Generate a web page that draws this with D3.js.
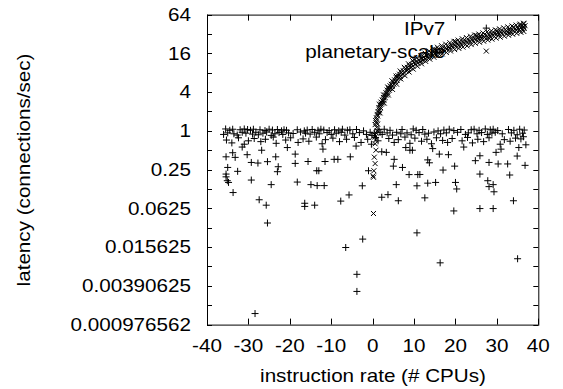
<!DOCTYPE html>
<html>
<head>
<meta charset="utf-8">
<script src="https://cdn.jsdelivr.net/npm/d3@7"></script>
<style>
  body { margin: 0; background: #fff; }
  text { font-family: "Liberation Sans", Arial, sans-serif; font-size: 17.5px; fill: #000; }
</style>
</head>
<body>
<svg></svg>
<script>
// Define SVG dimensions
const width = 563, height = 389;

// Axis ticks and labels
const xTicks = [-40, -30, -20, -10, 0, 10, 20, 30, 40];
const yTicks = [0.0009765625, 0.00390625, 0.015625, 0.0625, 0.25, 1, 4, 16, 64];
const yTickLabels = ["0.000976562", "0.00390625", "0.015625", "0.0625", "0.25", "1", "4", "16", "64"];
const yMinorTicks = [0.001953125, 0.0078125, 0.03125, 0.125, 0.5, 2, 8, 32];
const seriesNames = ["IPv7", "planetary-scale"];

// IPv7 points [x, y] (plus markers)
const ipv7 = [
  [-35.5, 1.07], [-34.5, 1.02], [-33.8, 1.06], [-32, 1.04], [-31, 1.07], [-30.2, 1.05], [-29.5, 1.02],
  [-28.8, 1.06], [-27.2, 1.04], [-26, 1.01], [-25, 1.06], [-24.2, 1.03], [-23, 1.05], [-22, 1.0],
  [-21.4, 1.04], [-20.8, 1.02], [-18.2, 1.04], [-16.5, 1.0], [-15.8, 1.03], [-14.6, 1.05], [-13.2, 1.02],
  [-12.5, 1.06], [-11.8, 1.03], [-10.5, 1.01], [-9.2, 1.04], [-8.2, 1.0], [-7.3, 1.06], [-6.1, 1.02],
  [-5.5, 1.04], [-3.9, 1.05], [-2.2, 1.0], [1.5, 1.04], [2.8, 1.06], [4.2, 1.02], [7.1, 1.05],
  [9.8, 1.07], [10.5, 1.02], [12.1, 1.05], [15.8, 1.0], [17.2, 1.03], [18.5, 1.06], [19.6, 1.01],
  [21.3, 1.05], [23.8, 1.04], [24.5, 1.06], [25.7, 1.02], [27.2, 1.07], [28.4, 1.04], [29.1, 1.06],
  [30.2, 1.01], [32.8, 1.05], [34.1, 1.02], [35.5, 1.06], [36.6, 1.03],
  [-36, 0.88], [-35, 0.93], [-33.5, 0.9], [-32.7, 0.86], [-31.5, 0.95], [-30.6, 0.92], [-29, 0.89],
  [-28.2, 0.95], [-27.6, 0.87], [-26.5, 0.92], [-25.6, 0.96], [-24.5, 0.85], [-23.6, 0.9], [-22.6, 0.94],
  [-21.7, 0.88], [-20.3, 0.93], [-19.2, 0.91], [-17.4, 0.96], [-16.2, 0.92], [-15.1, 0.89], [-14, 0.95],
  [-12.9, 0.9], [-11, 0.94], [-10, 0.88], [-8.8, 0.92], [-7.6, 0.95], [-6.7, 0.86], [-4.8, 0.9],
  [-3.2, 0.94], [-1.5, 0.88], [-0.6, 0.95], [-0.2, 0.85], [0.4, 0.92], [1.8, 0.95], [2.3, 0.88],
  [3.5, 0.93], [4.8, 0.86], [5.8, 0.95], [6.8, 0.9], [8.3, 0.93], [9.3, 0.87], [11.2, 0.94],
  [12.6, 0.89], [13.5, 0.92], [14.8, 0.96], [16.4, 0.9], [17.8, 0.93], [20.5, 0.95], [22.4, 0.88],
  [23.1, 0.93], [25.2, 0.9], [26.3, 0.94], [27.7, 0.88], [28.8, 0.92], [29.6, 0.95], [31.3, 0.9],
  [33.5, 0.93], [34.9, 0.87], [36.2, 0.92],
  [-35.3, 0.72], [-34, 0.65], [-32.4, 0.78], [-31, 0.62], [-30, 0.7], [-28.6, 0.76], [-27, 0.68],
  [-25.9, 0.74], [-24, 0.8], [-23.3, 0.64], [-21, 0.72], [-19.8, 0.78], [-18, 0.66], [-16.8, 0.75],
  [-15.4, 0.69], [-13.6, 0.8], [-12.2, 0.63], [-11.4, 0.73], [-9.6, 0.77], [-8, 0.68], [-6.3, 0.74],
  [-4.4, 0.79], [-2.8, 0.66], [-1.2, 0.74], [-0.3, 0.62], [0.7, 0.79], [1.3, 0.7], [3.9, 0.76],
  [5.2, 0.66], [6.2, 0.73], [7.8, 0.8], [9.0, 0.64], [10.2, 0.77], [11.8, 0.69], [13.1, 0.74],
  [14.2, 0.63], [15.4, 0.78], [16.9, 0.71], [18.1, 0.66], [19.2, 0.76], [21.6, 0.7], [22.9, 0.79],
  [24.1, 0.65], [25.4, 0.74], [26.8, 0.68], [28.1, 0.78], [30.8, 0.62], [31.8, 0.73], [33.2, 0.69],
  [34.5, 0.77], [35.8, 0.75], [36.4, 0.81],
  [-31.5, 0.56], [-26.8, 0.5], [-20.6, 0.55], [-12, 0.52], [-4, 0.58], [8, 0.55], [14.5, 0.53],
  [22, 0.56], [31, 0.52],
  [-35.4, 0.395], [-33.8, 0.457], [-33.2, 0.387], [-30.3, 0.426], [-29.3, 0.323], [-27.7, 0.316],
  [-25.4, 0.332], [-23.4, 0.395], [-18.7, 0.435], [-18.7, 0.312], [-15.6, 0.334], [-11.5, 0.334],
  [-9.3, 0.361], [-8.4, 0.361], [-5.4, 0.395], [2.2, 0.473], [3.3, 0.463], [5.2, 0.361], [9.0, 0.5],
  [9.6, 0.5], [13.3, 0.354], [13.7, 0.319], [16.1, 0.435], [18.3, 0.426], [25.9, 0.41], [29.8, 0.463],
  [34.9, 0.406], [35.3, 0.55], [37.0, 0.607],
  [-35.4, 0.213], [-35.4, 0.193], [-32.6, 0.235], [-35.0, 0.27], [-23.0, 0.232], [-22.8, 0.277],
  [-13.5, 0.24], [-13.0, 0.24], [-1.0, 0.24], [5.0, 0.283], [7.2, 0.27], [8.8, 0.209], [10.9, 0.209],
  [11.4, 0.21], [17.0, 0.246], [19.8, 0.283], [24.8, 0.344], [28.1, 0.323], [30.3, 0.306], [32.6, 0.306],
  [25.9, 0.213], [33.1, 0.206], [36.8, 0.291],
  [-33.7, 0.11], [-35.1, 0.168], [-34.8, 0.158], [-29.3, 0.172], [-24.5, 0.146], [-18.2, 0.16],
  [-14.9, 0.146], [-13.4, 0.141], [-11.7, 0.141], [-2.5, 0.14], [5.7, 0.146], [10.7, 0.14],
  [13.3, 0.154], [15.2, 0.158], [20.0, 0.158], [20.3, 0.125], [27.8, 0.168], [28.1, 0.136],
  [29.1, 0.146], [29.3, 0.113],
  [-27.4, 0.085], [-25.7, 0.07], [-16.4, 0.075], [-16.4, 0.067], [-14.0, 0.07], [-7.7, 0.081],
  [-5.7, 0.101], [2.2, 0.093], [3.7, 0.102], [6.2, 0.082], [12.6, 0.091], [19.6, 0.057], [25.9, 0.062],
  [29.1, 0.062], [34.0, 0.082],
  [-25.4, 0.037], [-6.5, 0.0154], [-2.4, 0.0208], [10.7, 0.026], [16.3, 0.0089], [35.0, 0.0103],
  [-3.8, 0.0059], [-3.8, 0.0032], [-28.4, 0.00145]
];

// planetary-scale points [x, y] (cross markers)
const planetary = [
  [0.2, 0.052], [0.2, 0.19], [0.3, 0.24], [0.1, 0.2], [0.6, 0.31], [0.4, 0.39], [0.8, 0.5],
  [0.6, 0.63], [0.6, 0.8], [0.7, 0.72], [0.5, 0.87], [0.9, 0.92], [1.1, 1.0], [1.0, 1.13], [1.2, 1.27],
  [0.6, 1.25], [0.7, 1.45], [0.8, 1.35], [0.9, 1.6], [1.0, 1.5], [1.1, 1.8], [1.2, 1.7], [1.3, 2.0],
  [1.4, 1.9], [1.5, 2.3], [1.6, 2.1], [1.8, 2.5], [1.9, 2.3], [2.0, 2.8], [2.1, 2.6], [2.3, 3.0],
  [2.4, 2.7], [2.6, 3.3], [2.7, 3.0], [2.9, 3.6], [3.0, 3.3], [3.2, 3.9], [3.3, 3.6], [3.5, 4.3],
  [3.6, 3.9], [3.8, 4.6], [4.0, 4.3], [4.2, 5.0], [4.3, 4.6], [4.5, 5.3], [4.7, 4.9], [4.9, 5.8],
  [5.1, 5.3], [5.3, 6.2], [5.5, 5.8], [5.7, 6.7], [5.9, 6.1], [6.1, 7.2], [6.3, 6.6], [6.5, 7.6],
  [6.7, 7.0], [6.9, 8.1], [7.1, 7.5], [7.4, 8.6], [7.6, 8.0], [7.9, 9.2], [8.1, 8.5], [8.4, 9.7],
  [8.6, 9.0], [8.9, 10.3], [9.1, 9.5], [9.4, 10.8], [9.7, 10.1], [10.0, 11.5], [10.3, 10.8],
  [10.6, 12.1], [10.9, 11.3], [11.2, 12.7], [11.5, 11.9], [11.8, 13.4], [12.1, 12.5], [12.4, 14.0],
  [12.7, 13.1], [13.0, 14.8], [13.3, 13.7], [13.6, 15.4], [13.9, 14.3], [14.2, 16.0], [14.5, 15.0],
  [14.8, 16.7], [15.1, 15.6], [15.5, 17.4], [15.8, 16.3], [16.2, 18.2], [16.5, 17.0], [16.9, 19.0],
  [17.2, 17.7], [17.6, 19.6], [17.9, 18.5], [18.3, 20.4], [18.6, 19.2], [19.0, 21.2], [19.3, 19.9],
  [19.7, 22.0], [20.0, 20.6], [20.4, 22.8], [20.7, 21.3], [21.1, 23.6], [21.4, 22.1], [21.8, 24.3],
  [22.1, 22.8], [22.5, 25.1], [22.8, 23.5], [23.2, 25.9], [23.5, 24.3], [23.9, 26.7], [24.2, 25.0],
  [24.6, 27.5], [24.9, 25.8], [25.3, 28.2], [25.6, 26.6], [26.0, 29.0], [26.3, 27.3], [26.7, 29.8],
  [27.0, 28.1], [27.4, 30.6], [27.7, 28.8], [28.1, 31.4], [28.4, 29.6], [28.8, 32.2], [29.1, 30.3],
  [29.5, 33.0], [29.8, 31.1], [30.2, 33.8], [30.5, 31.8], [30.9, 34.6], [31.2, 32.6], [31.6, 35.4],
  [31.9, 33.3], [32.3, 36.2], [32.6, 34.1], [33.0, 37.0], [33.3, 34.8], [33.7, 37.8], [34.0, 35.6],
  [34.4, 38.6], [34.7, 36.3], [35.1, 39.4], [35.4, 37.1], [35.8, 40.6], [36.1, 38.0], [36.4, 41.8],
  [36.6, 39.0], [36.8, 43.0], [36.5, 46], [35.5, 44], [34, 41], [30, 36], [25, 30.5], [20, 24.5],
  [15, 18.5], [10, 12.8], [33, 33], [28, 28],
  [1.65, 2.6], [2.65, 3.6], [3.65, 4.8], [4.65, 6.0], [5.65, 7.1], [6.65, 8.5], [7.65, 9.7],
  [8.65, 11.0], [9.65, 12.3], [10.65, 13.6], [11.65, 14.8], [12.65, 16.1], [13.65, 17.4], [14.65, 18.7],
  [15.65, 19.9], [16.65, 21.0], [17.65, 22.2], [18.65, 23.4], [19.65, 24.6], [20.65, 25.7], [21.65, 26.9],
  [22.65, 28.1], [23.65, 29.5], [24.65, 30.8], [25.65, 31.9], [26.65, 33.2], [27.65, 34.5], [28.65, 35.8],
  [29.65, 37.1], [30.65, 38.4], [31.65, 39.8], [32.65, 41.2], [33.65, 42.6], [34.65, 44.0], [35.65, 45.6],
  [36.45, 47.0],
  [1.8, 1.9], [2.8, 2.7], [3.8, 3.6], [4.8, 4.4], [5.8, 5.3], [6.8, 6.4], [7.8, 7.2], [8.8, 8.2],
  [9.8, 9.1], [10.8, 10.1], [11.8, 11.0], [12.8, 12.0], [13.8, 13.0], [14.8, 13.9], [15.8, 14.8],
  [16.8, 15.7], [17.8, 16.5], [18.8, 17.4], [19.8, 18.3], [20.8, 19.1], [21.8, 20.0], [22.8, 20.9],
  [23.8, 21.9], [24.8, 22.9], [25.8, 23.8], [26.8, 24.7], [27.8, 25.7], [28.8, 26.6], [29.8, 27.6],
  [30.8, 28.5], [31.8, 29.6], [32.8, 30.6], [33.8, 31.7], [34.8, 32.7], [35.8, 33.9], [36.5, 35.0]
];

// Plot frame
const margin = { left: 207, right: 24.7, top: 14.6, bottom: 64.4 };
const plotRight = width - margin.right, plotBottom = height - margin.bottom;

const svg = d3.select("svg")
  .attr("width", width)
  .attr("height", height);

// Scales
const x = d3.scaleLinear().domain([-40, 40]).range([margin.left, plotRight]);
const y = d3.scaleLog().base(2).domain([0.0009765625, 64]).range([plotBottom, margin.top]);

// Gnuplot-style wide lettering
const stretch = 1.18;

// Ticks on all four sides, pointing inward
const tickG = svg.append("g").attr("stroke", "#000").attr("stroke-width", 1);
xTicks.forEach(t => {
  const px = Math.round(x(t)) + 0.5;
  tickG.append("line").attr("x1", px).attr("x2", px).attr("y1", plotBottom).attr("y2", plotBottom - 6);
  tickG.append("line").attr("x1", px).attr("x2", px).attr("y1", margin.top).attr("y2", margin.top + 6);
});
yTicks.concat(yMinorTicks).forEach(t => {
  const py = Math.round(y(t)) + 0.5;
  tickG.append("line").attr("x1", margin.left).attr("x2", margin.left + 5).attr("y1", py).attr("y2", py);
  tickG.append("line").attr("x1", plotRight).attr("x2", plotRight - 5).attr("y1", py).attr("y2", py);
});

// Tick labels
svg.append("g")
  .selectAll("text")
  .data(xTicks)
  .join("text")
  .attr("text-anchor", "middle")
  .attr("transform", d => `translate(${x(d)},${plotBottom + 27.5}) scale(${stretch},1)`)
  .text(d => d);

svg.append("g")
  .selectAll("text")
  .data(yTicks)
  .join("text")
  .attr("text-anchor", "end")
  .attr("transform", d => `translate(${margin.left - 16},${y(d) + 6.2}) scale(${stretch},1)`)
  .text((d, i) => yTickLabels[i]);

// Axis titles
svg.append("text")
  .attr("text-anchor", "middle")
  .attr("transform", `translate(373,382) scale(${stretch},1)`)
  .text("instruction rate (# CPUs)");

svg.append("text")
  .attr("text-anchor", "middle")
  .attr("transform", `translate(30,170) rotate(-90) scale(${stretch},1)`)
  .text("latency (connections/sec)");

// Marker shapes
const plusPath = "M-3.5,0H3.5M0,-3.5V3.5";
const crossPath = "M-2.5,-2.5L2.5,2.5M-2.5,2.5L2.5,-2.5";

// Key: text first, then samples and data drawn over it
const keyTextX = plotRight - 93, keySampleX = plotRight - 52;
const keyRows = [margin.top + 13.5, margin.top + 36.5];

seriesNames.forEach((name, i) => {
  svg.append("text")
    .attr("text-anchor", "end")
    .attr("transform", `translate(${keyTextX},${keyRows[i] + 6.5}) scale(${stretch},1)`)
    .text(name);
});

// IPv7 points
const marks = svg.append("g").attr("fill", "none").attr("stroke", "#000").attr("stroke-width", 1);
marks.append("path")
  .attr("d", plusPath)
  .attr("transform", `translate(${keySampleX},${keyRows[0]})`);
marks.selectAll("path.ipv7")
  .data(ipv7)
  .join("path")
  .attr("class", "ipv7")
  .attr("d", plusPath)
  .attr("transform", d => `translate(${x(d[0])},${y(d[1])})`);

// planetary-scale points
marks.append("path")
  .attr("d", crossPath)
  .attr("transform", `translate(${keySampleX},${keyRows[1]})`);
marks.selectAll("path.planetary")
  .data(planetary)
  .join("path")
  .attr("class", "planetary")
  .attr("d", crossPath)
  .attr("transform", d => `translate(${x(d[0])},${y(d[1])})`);

// Frame
svg.append("rect")
  .attr("x", margin.left + 0.5)
  .attr("y", margin.top + 0.5)
  .attr("width", plotRight - margin.left)
  .attr("height", plotBottom - margin.top)
  .attr("fill", "none")
  .attr("stroke", "#000")
  .attr("stroke-width", 1);
</script>
</body>
</html>
